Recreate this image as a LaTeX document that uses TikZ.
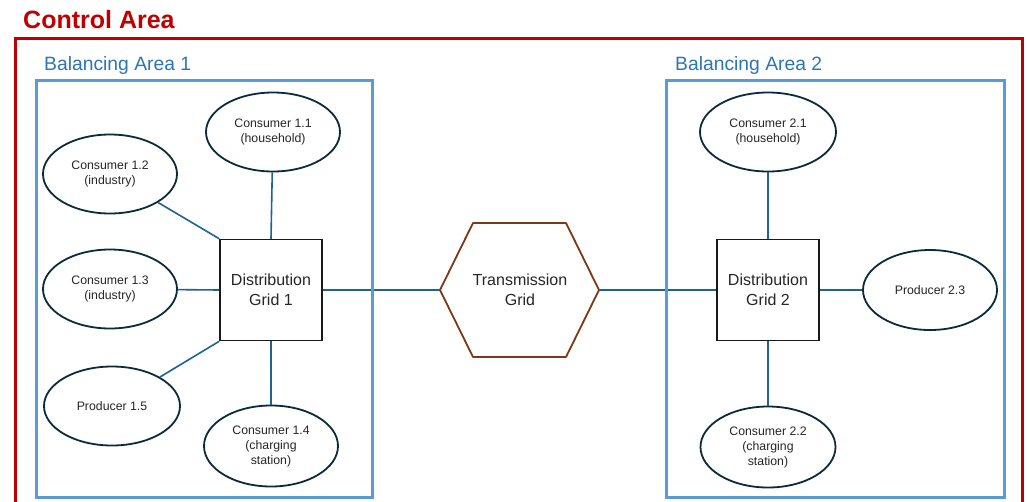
\documentclass[tikz,border=0pt]{standalone}
\usepackage{fontspec}
\setmainfont{Liberation Sans}
\usetikzlibrary{shapes.geometric}
\definecolor{areared}{HTML}{C00000}
\definecolor{boxblue}{HTML}{5B9BD5}
\definecolor{labelblue}{HTML}{2E75B6}
\definecolor{linkblue}{HTML}{1F6390}
\definecolor{ovalnavy}{HTML}{0B2A3C}
\definecolor{hexbrown}{HTML}{7B3A14}
\begin{document}
\begin{tikzpicture}[x=1pt,y=-1pt,
  party/.style={ellipse,draw=ovalnavy,line width=1.8pt,fill=white,inner sep=0pt,
    minimum width=134pt,minimum height=79pt,align=center,
    font=\fontsize{12.3}{15}\selectfont,text=black!85},
  gridbox/.style={rectangle,draw=black!90,line width=1.5pt,fill=white,
    minimum width=102pt,minimum height=101pt,align=center,
    font=\fontsize{16}{19.5}\selectfont,text=black!85},
  link/.style={draw=linkblue,line width=1.6pt},
  areabox/.style={draw=boxblue,line width=3pt},
  arealabel/.style={anchor=west,inner sep=0pt,text=labelblue,font=\fontsize{19.3}{22}\selectfont}]
\useasboundingbox (0,0) rectangle (1027,501);
\fill[white] (0,0) rectangle (1027,501);

% control area frame and title
\draw[areared,line width=3pt] (15,520) -- (15,38) -- (1022,38) -- (1022,520);
\node[anchor=west,inner sep=0pt,text=areared,font=\fontsize{25}{28}\bfseries] (ctrl) at (23,20) {Control Area};

% area titles
\node[arealabel] (ba1) at (44,66) {Balancing Area 1};
\node[arealabel] (ba2) at (675,66) {Balancing Area 2};

% balancing area 1
\node[gridbox] (dg1) at (271,290) {Distribution\\Grid 1};
\node[party] (c11) at (273,132) {Consumer 1.1\\(household)};
\node[party] (c12) at (110,174) {Consumer 1.2\\(industry)};
\node[party] (c13) at (110,289) {Consumer 1.3\\(industry)};
\node[party,minimum width=136pt] (p15) at (112,406) {Producer 1.5};
\node[party,minimum height=81pt] (c14) at (271,446) {Consumer 1.4\\(charging\\station)};

% transmission grid hexagon
\coordinate (tgW) at (440,290);
\coordinate (tgE) at (599,290);
\draw[hexbrown,line width=1.8pt,fill=white,line join=round]
  (tgW) -- (473,223) -- (566,223) -- (tgE) -- (566,357) -- (473,357) -- cycle;
\node[font=\fontsize{16}{19.5}\selectfont,text=black!85,align=center] (tg) at (520,290) {Transmission\\Grid};

% balancing area 2
\node[gridbox] (dg2) at (768,290) {Distribution\\Grid 2};
\node[party,minimum width=136pt] (c21) at (768,132) {Consumer 2.1\\(household)};
\node[party,minimum width=134pt,minimum height=80pt] (p23) at (930,290) {Producer 2.3};
\node[party,minimum width=135pt,minimum height=81pt] (c22) at (768,447) {Consumer 2.2\\(charging\\station)};

% connections
\draw[link] (dg1.north) -- (c11);
\draw[link] (dg1.north west) -- (c12);
\draw[link] (dg1.west) -- (c13);
\draw[link] (dg1.south west) -- (p15);
\draw[link] (dg1.south) -- (c14);
\draw[link] (dg1.east) -- (tgW);
\draw[link] (tgE) -- (dg2.west);
\draw[link] (dg2.north) -- (c21);
\draw[link] (dg2.east) -- (p23);
\draw[link] (dg2.south) -- (c22);

% balancing area frames
\draw[areabox] (36,80) rectangle (372,497);
\draw[areabox] (666,80) rectangle (1004,497);
\end{tikzpicture}
\end{document}
